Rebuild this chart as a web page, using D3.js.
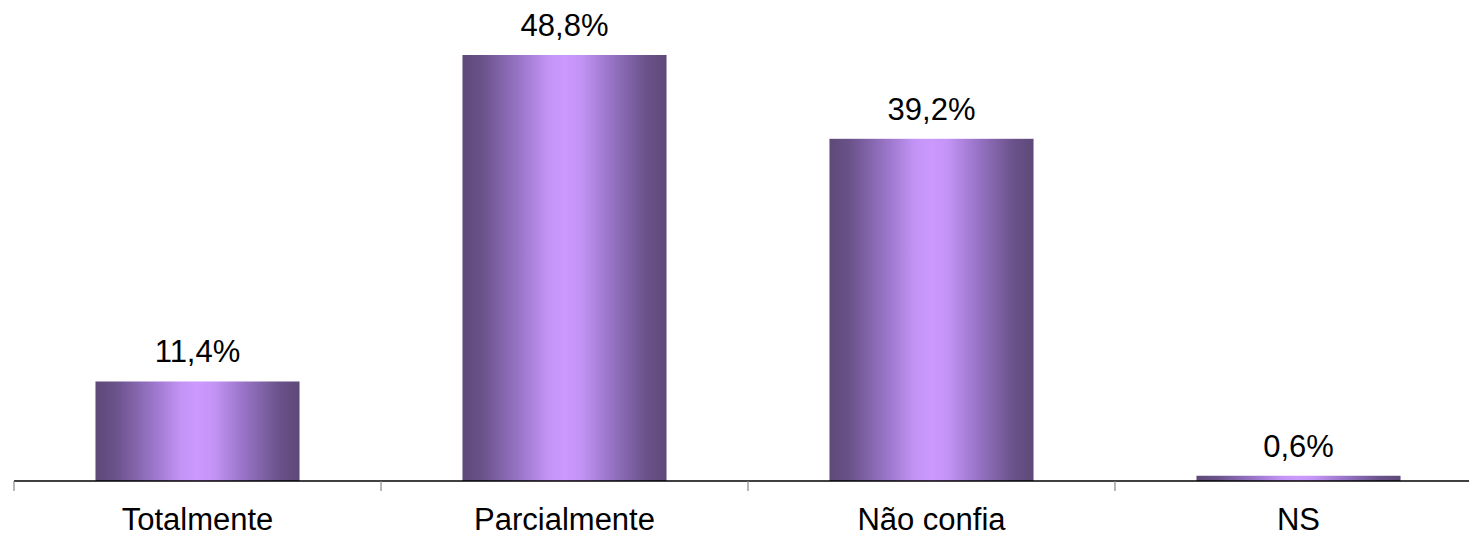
<!DOCTYPE html>
<html>
<head>
<meta charset="utf-8">
<script src="https://cdn.jsdelivr.net/npm/d3@7"></script>
<style>
  html, body { margin: 0; padding: 0; background: #fff; }
  svg { display: block; }
</style>
</head>
<body>
<script>
const categories = ["Totalmente", "Parcialmente", "Não confia", "NS"];
const values = [11.4, 48.8, 39.2, 0.6];
const valueLabels = ["11,4%", "48,8%", "39,2%", "0,6%"];

const W = 1469, H = 536;
const axisY = 481;
const svg = d3.select("body").append("svg").attr("width", W).attr("height", H);

const x = d3.scaleBand().domain(categories).range([14, 14 + 4 * 367])
  .paddingInner(0.444).paddingOuter(0.222);
const y = d3.scaleLinear().domain([0, 48.8]).range([axisY, 55]);

const defs = svg.append("defs");
const grad = defs.append("linearGradient").attr("id", "barGrad")
  .attr("x1", "0%").attr("x2", "100%").attr("y1", "0%").attr("y2", "0%");
[[0, "#5e4978"], [0.1, "#6a528a"], [0.3, "#9f79cf"], [0.42, "#c394f5"], [0.5, "#cc99ff"],
 [0.58, "#c394f5"], [0.7, "#9f79cf"], [0.9, "#6a528a"], [1, "#5e4978"]].forEach(([o, c]) =>
  grad.append("stop").attr("offset", o).attr("stop-color", c));

const font = "'Liberation Sans', Arial, sans-serif";

svg.selectAll("rect.bar").data(categories).enter().append("rect")
  .attr("class", "bar")
  .attr("x", d => x(d))
  .attr("width", x.bandwidth())
  .attr("y", (d, i) => y(values[i]))
  .attr("height", (d, i) => axisY - y(values[i]))
  .attr("fill", "url(#barGrad)");

svg.selectAll("text.val").data(categories).enter().append("text")
  .attr("class", "val")
  .attr("x", d => x(d) + x.bandwidth() / 2)
  .attr("y", (d, i) => y(values[i]) - 19)
  .attr("text-anchor", "middle")
  .attr("font-family", font).attr("font-size", 31).attr("fill", "#000")
  .text((d, i) => valueLabels[i]);

// axis
const axisG = svg.append("g").attr("transform", `translate(0,${axisY})`)
  .call(d3.axisBottom(x).tickSize(0).tickPadding(0));
axisG.select(".domain").attr("stroke", "#000").attr("stroke-width", 1.5)
  .attr("d", `M14,0H${W}`);
axisG.selectAll(".tick text").attr("font-family", font).attr("font-size", 31)
  .attr("fill", "#000").attr("dy", null).attr("y", 49);

const gap = (x.step() - x.bandwidth()) / 2;
const bounds = categories.map(c => x(c) - gap).concat([x.range()[1]]);
axisG.selectAll("line.bt").data(bounds).enter().append("line")
  .attr("class", "bt")
  .attr("x1", d => d).attr("x2", d => d)
  .attr("y1", 0).attr("y2", 10)
  .attr("stroke", "#888").attr("stroke-width", 1.2);
</script>
</body>
</html>
